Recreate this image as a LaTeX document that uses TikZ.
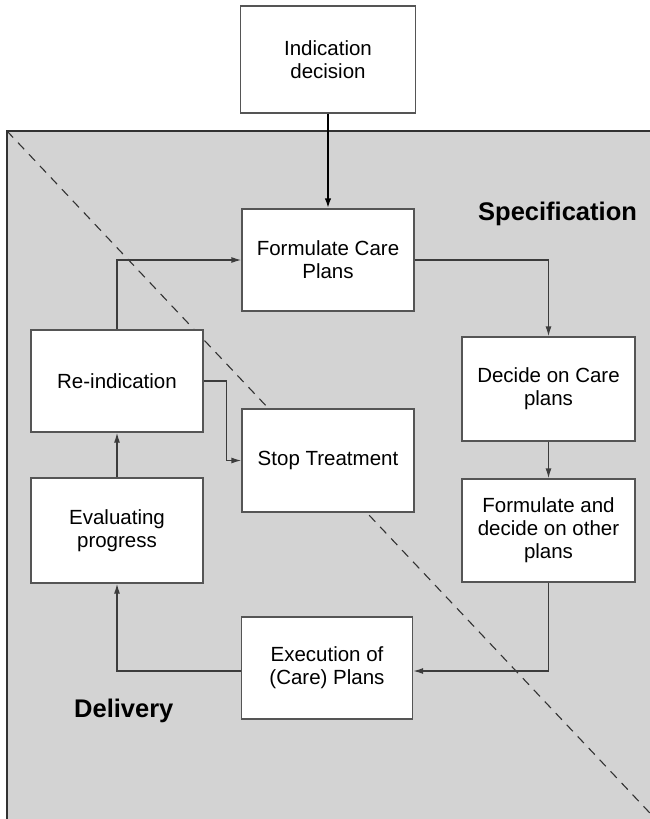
\documentclass[tikz,border=0pt]{standalone}
\usepackage{fontspec}
\setmainfont{Liberation Sans}
\usetikzlibrary{arrows.meta}
\definecolor{panelgray}{RGB}{211,211,211}
\definecolor{boxline}{RGB}{85,85,85}
\definecolor{connline}{RGB}{60,60,60}
\definecolor{paneledge}{RGB}{50,50,50}
\begin{document}
\begin{tikzpicture}[x=1pt,y=-1pt,
  box/.style={draw=boxline, fill=white, line width=1.3pt, align=center, inner sep=0pt,
    font=\fontsize{20.5}{23}\selectfont},
  conn/.style={draw=connline, line width=1.3pt, -{Latex[length=10pt,width=6pt]}},
  mainarrow/.style={draw=black, line width=2pt, -{Latex[length=10pt,width=6.5pt]}},
  region/.style={font=\bfseries\fontsize{25.5}{28}\selectfont, inner sep=0pt},
  divider/.style={draw=paneledge, line width=1.1pt, dash pattern=on 9pt off 7pt}]
\useasboundingbox (0,0) rectangle (650,819);
\begin{scope}
  \clip (0,0) rectangle (650,819);
  \coordinate (pTL) at (7,131);
  \coordinate (pBR) at (665,830);
  \coordinate (dEnd) at (664,828);
  \fill[panelgray] (pTL) rectangle (pBR);
  \draw[paneledge, line width=1.5pt] (pTL) rectangle (pBR);
  \draw[divider] (pTL) -- (dEnd);
\end{scope}

\node[box, minimum width=175pt, minimum height=107pt] (ind) at (328,59.5) {Indication\\decision};
\node[box, minimum width=172pt, minimum height=102pt] (fcp) at (328,260) {Formulate Care\\Plans};
\node[box, minimum width=172pt, minimum height=102pt] (rei) at (117,381) {Re-indication};
\node[box, minimum width=172pt, minimum height=105pt] (eva) at (117,530.5) {Evaluating\\progress};
\node[box, minimum width=172pt, minimum height=103pt] (stop) at (328,460.5) {Stop Treatment};
\node[box, minimum width=173pt, minimum height=104pt] (dec) at (548.5,389) {Decide on Care\\plans};
\node[box, minimum width=173pt, minimum height=103pt] (oth) at (548.5,530.5) {Formulate and\\decide on other\\plans};
\node[box, minimum width=171pt, minimum height=102pt] (exe) at (327,668) {Execution of\\(Care) Plans};

\node[region, anchor=base west] (spec) at (478,220.7) {Specification};
\node[region, anchor=base west] (deliv) at (74,717) {Delivery};

\draw[mainarrow] (ind.south) -- (fcp.north);
\draw[conn] (rei.north) |- (fcp.west);
\draw[conn] (fcp.east) -| (dec.north);
\draw[conn] (dec.south) -- (oth.north);
\draw[conn] (oth.south) |- ([yshift=-3pt]exe.east);
\draw[conn] ([yshift=-3pt]exe.west) -| (eva.south);
\draw[conn] (eva.north) -- (rei.south);
\draw[conn] (rei.east) -- ++(23,0) |- (stop.west);
\end{tikzpicture}
\end{document}
